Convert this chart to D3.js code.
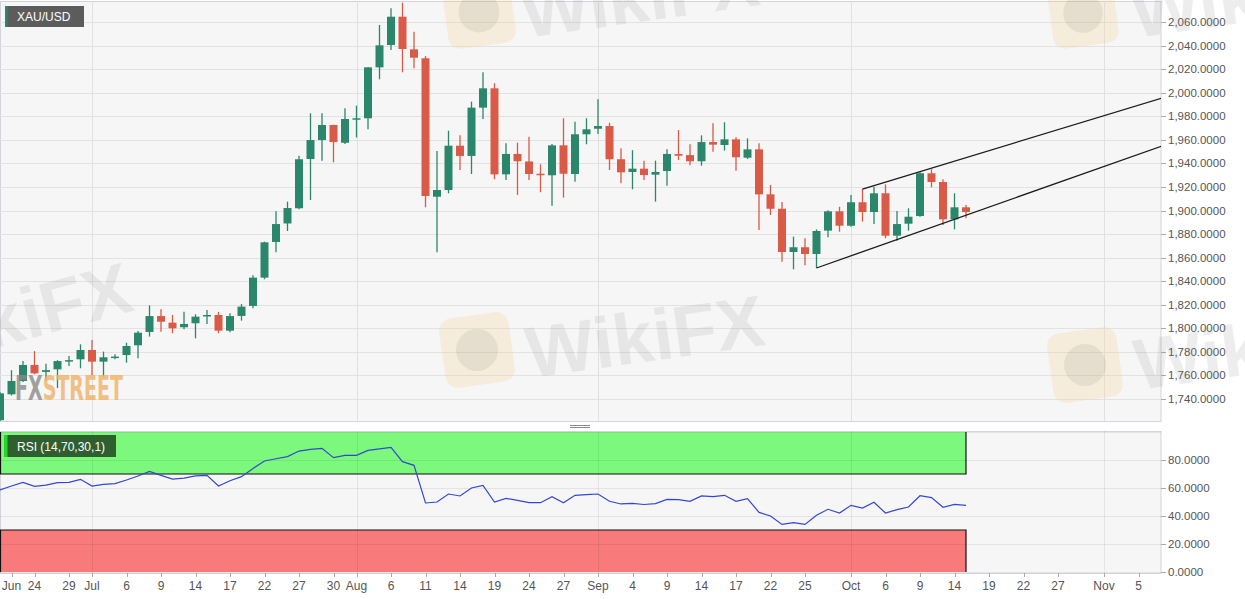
<!DOCTYPE html>
<html><head><meta charset="utf-8">
<script src="https://cdn.jsdelivr.net/npm/d3@7"></script>
<style>
body{margin:0;background:#fff;}
svg{display:block;font-family:"Liberation Sans",Arial,sans-serif;}
</style>
</head><body><svg id="c" width="1245" height="599"></svg>
<script>
// ---------- DATA ----------
const dates = ["2020-06-19","2020-06-22","2020-06-23","2020-06-24","2020-06-25","2020-06-26","2020-06-29","2020-06-30",
"2020-07-01","2020-07-02","2020-07-03","2020-07-06","2020-07-07","2020-07-08","2020-07-09","2020-07-10","2020-07-13","2020-07-14","2020-07-15","2020-07-16","2020-07-17","2020-07-20","2020-07-21","2020-07-22","2020-07-23","2020-07-24","2020-07-27","2020-07-28","2020-07-29","2020-07-30","2020-07-31",
"2020-08-03","2020-08-04","2020-08-05","2020-08-06","2020-08-07","2020-08-10","2020-08-11","2020-08-12","2020-08-13","2020-08-14","2020-08-17","2020-08-18","2020-08-19","2020-08-20","2020-08-21","2020-08-24","2020-08-25","2020-08-26","2020-08-27","2020-08-28","2020-08-31",
"2020-09-01","2020-09-02","2020-09-03","2020-09-04","2020-09-07","2020-09-08","2020-09-09","2020-09-10","2020-09-11","2020-09-14","2020-09-15","2020-09-16","2020-09-17","2020-09-18","2020-09-21","2020-09-22","2020-09-23","2020-09-24","2020-09-25","2020-09-28","2020-09-29","2020-09-30",
"2020-10-01","2020-10-02","2020-10-05","2020-10-06","2020-10-07","2020-10-08","2020-10-09","2020-10-12","2020-10-13","2020-10-14","2020-10-15"];

const opens = [1722,1744,1755.3,1768.9,1763,1765.2,1772.2,1773.7,
1781.6,1771.7,1775.4,1777.3,1785.6,1796.9,1810.4,1804.8,1800.9,1804.3,1810.5,1811.3,1798,1810.5,1819,1843,1873.3,1889,1901.9,1943.7,1959.8,1972.6,1957.5,
1977.5,1978.3,2021.5,2040.5,2064.5,2036.8,2029.2,1911.7,1917.4,1955,1946.3,1987.3,2003.7,1930.7,1948,1941.6,1931.2,1929.9,1955.3,1931,1964.7,
1969.4,1971.7,1943.5,1932.7,1935.5,1930.4,1933.5,1947.9,1947,1941.8,1958.1,1955.6,1960.4,1944.8,1951.9,1913.7,1901.5,1864.8,1868.8,1863.1,1882.9,1899.3,
1887.1,1907,1898.7,1914.6,1878.6,1888.8,1895.3,1931.6,1924.2,1892.5,1902.7];
const highs = [1746,1764.5,1772.2,1780.7,1770,1773,1776.5,1786.4,
1790,1780.2,1778,1787.8,1797.7,1819.5,1816.1,1811.3,1814.1,1811.9,1815.5,1814,1812.7,1820.6,1845,1873.5,1899.3,1907.5,1946.5,1982.5,1982.5,1972.8,1986.7,
1989,2021.8,2057.5,2071.6,2076.4,2051.8,2031.1,1950.5,1967.7,1963.8,1992.4,2017.3,2008,1957,1957.6,1962.6,1939.2,1956.5,1978.3,1975.4,1978.3,
1994.4,1974.5,1952.8,1951.2,1942.3,1942.3,1952,1968.3,1956.2,1963.8,1974,1974.9,1962.1,1961.2,1957,1921.6,1907.2,1877.8,1876.4,1884,1900.2,1903.2,
1913.2,1918.2,1920.2,1922.2,1899.6,1901.9,1932.4,1935,1926.5,1914.6,1904.7];
const lows = [1719,1743,1754.5,1761,1756,1749.3,1768,1766.1,
1760.4,1759,1773.8,1770.8,1774.5,1793,1797.1,1795.8,1799.2,1791.5,1803.6,1795.8,1796.6,1806.5,1817,1841.6,1864.5,1882.6,1901,1908.9,1942.3,1940.9,1956.4,
1962,1969,2011.4,2036.2,2017.3,2020.7,1902.7,1864.5,1914.6,1934.4,1931,1977.7,1926.5,1925.9,1913.2,1925.9,1915.5,1904.1,1910.9,1924.4,1956.2,
1964.9,1934.4,1923.1,1918,1925.9,1907.5,1921,1942.9,1938.4,1938,1949.9,1950.8,1933.8,1943.7,1883.4,1896.2,1856.6,1850.1,1853.5,1851.2,1877.3,1882,
1886.3,1890.5,1888.5,1876.4,1874.4,1882.9,1894.7,1919.7,1887.7,1884,1893.4];
const closes = [1744.8,1755.3,1768.9,1761.8,1764.5,1772.2,1773,1781.6,
1771.7,1775.4,1776,1785,1796.3,1810.4,1805.6,1800,1803.7,1809.9,1811.3,1798,1810.4,1818.4,1843,1873,1888.5,1902.1,1943.5,1959.8,1972.6,1958.1,1977.7,
1978.3,2021.5,2040.2,2064.5,2037.1,2029.7,1912.3,1917.4,1955,1946.3,1987.3,2003.7,1930.7,1948,1941.8,1931,1930.5,1955.3,1931.2,1964.7,1968.9,
1971.7,1943.5,1932.4,1935.5,1930.1,1932.7,1948,1946.5,1941.8,1958.1,1955.9,1960.4,1945.2,1951.9,1913.7,1901.5,1864.8,1868.8,1863.1,1882.6,1899.3,1887.1,
1907,1898.7,1914.6,1878.6,1888.5,1894.7,1931.6,1924.2,1892.5,1902.7,1898.7];
const rsiValues = [58.6,61.4,64.0,61.2,62.1,63.8,64.0,66.2,
61.4,62.6,63.1,65.7,68.6,71.9,69.0,66.4,67.1,68.6,69.0,61.4,65.2,68.1,74.0,79.3,80.9,82.4,86.4,87.6,88.3,81.7,83.3,
83.3,86.9,87.9,89.0,78.8,76.2,49.3,50.0,55.7,54.3,60.0,61.9,50.0,52.6,51.2,49.5,49.5,53.8,49.5,54.8,55.2,
55.7,50.5,48.6,49.0,48.2,48.8,51.9,51.7,50.5,54.3,53.8,54.8,50.5,52.4,42.6,40.0,34.0,35.2,34.0,40.5,44.8,42.1,
47.6,45.7,49.8,42.1,44.5,46.4,54.5,53.1,46.2,48.3,47.6];

const priceTicks = [1740,1760,1780,1800,1820,1840,1860,1880,1900,1920,1940,1960,1980,2000,2020,2040,2060];
const rsiTicks = [0,20,40,60,80];
const rsiUpper = 70, rsiLower = 30;
const xTickDates = ["2020-06-22","2020-06-24","2020-06-29","2020-07-01","2020-07-06","2020-07-09","2020-07-14","2020-07-17","2020-07-22","2020-07-27","2020-07-30",
"2020-08-03","2020-08-06","2020-08-11","2020-08-14","2020-08-19","2020-08-24","2020-08-27","2020-09-01","2020-09-04","2020-09-09","2020-09-14","2020-09-17","2020-09-22","2020-09-25",
"2020-10-01","2020-10-06","2020-10-09","2020-10-14","2020-10-19","2020-10-22","2020-10-27","2020-11-02","2020-11-05"];
const xTickLabels = ["Jun","24","29","Jul","6","9","14","17","22","27","30","Aug","6","11","14","19","24","27","Sep","4","9","14","17","22","25","Oct","6","9","14","19","22","27","Nov","5"];
const monthDates = ["2020-07-01","2020-08-03","2020-09-01","2020-10-01","2020-11-02"];
const upperTrend = [["2020-10-02",1918.2],["2020-11-09",1995.3]];
const lowerTrend = [["2020-09-28",1851.2],["2020-11-09",1954.6]];
const symbolLabel = "XAU/USD";
const rsiLabel = "RSI (14,70,30,1)";

// ---------- LAYOUT ----------
const W = 1245, H = 599;
const plotR = 1161;
const pTop = 1, pBot = 421;
const rTop = 431, rBot = 573;
const GREEN = "#2b876b", RED = "#d85a47";

const parse = d3.utcParse("%Y-%m-%d");
const cal = d3.utcDay.range(parse("2020-06-19"), parse("2020-11-10")).filter(d => d.getUTCDay() !== 0 && d.getUTCDay() !== 6);
const fmt = d3.utcFormat("%Y-%m-%d");
const idx = new Map(cal.map((d, i) => [fmt(d), i]));

const x = d3.scaleLinear().domain([0, 101]).range([0, 1161.5]);
const xd = s => x(idx.get(s));
const y = d3.scaleLinear().domain([1740, 2060]).range([399, 22]);
const yr = d3.scaleLinear().domain([0, 100]).range([572, 432]);

const svg = d3.select("#c");
svg.append("rect").attr("width", W).attr("height", H).attr("fill", "#fff");

const defs = svg.append("defs");
defs.append("clipPath").attr("id", "cp").append("rect").attr("x", 0).attr("y", pTop).attr("width", plotR).attr("height", pBot - pTop);
defs.append("clipPath").attr("id", "cr").append("rect").attr("x", 0).attr("y", rTop).attr("width", plotR).attr("height", rBot - rTop);

svg.append("rect").attr("x", 0.5).attr("y", pTop + 0.5).attr("width", plotR - 0.5).attr("height", pBot - pTop).attr("fill", "#f6f6f6").attr("stroke", "#d3d3dc");
svg.append("rect").attr("x", 0.5).attr("y", rTop + 0.5).attr("width", plotR - 0.5).attr("height", rBot - rTop).attr("fill", "#f6f6f6").attr("stroke", "#d3d3dc");

// ---------- PRICE PANEL ----------
const gp = svg.append("g").attr("clip-path", "url(#cp)");
gp.selectAll("line.hg").data(priceTicks).join("line")
  .attr("x1", 0).attr("x2", plotR).attr("y1", d => Math.round(y(d)) + 0.5).attr("y2", d => Math.round(y(d)) + 0.5)
  .attr("stroke", "#e2e2e2");
gp.selectAll("line.vg").data(monthDates).join("line")
  .attr("x1", d => Math.round(xd(d)) + 0.5).attr("x2", d => Math.round(xd(d)) + 0.5).attr("y1", pTop).attr("y2", pBot)
  .attr("stroke", "#e0e0e0");

const bw = 8;
const candles = dates.map((d, i) => ({d, o: opens[i], h: highs[i], l: lows[i], c: closes[i]}));
const cg = gp.selectAll("g.cdl").data(candles).join("g");
cg.append("line")
  .attr("x1", d => xd(d.d)).attr("x2", d => xd(d.d))
  .attr("y1", d => y(d.h)).attr("y2", d => y(d.l))
  .attr("stroke", d => d.c >= d.o ? GREEN : RED).attr("stroke-width", 1.3);
cg.append("rect")
  .attr("x", d => xd(d.d) - bw / 2).attr("width", bw)
  .attr("y", d => y(Math.max(d.o, d.c)))
  .attr("height", d => Math.max(1.5, Math.abs(y(d.o) - y(d.c))))
  .attr("fill", d => d.c >= d.o ? GREEN : RED);

[upperTrend, lowerTrend].forEach(t => {
  gp.append("line")
    .attr("x1", xd(t[0][0])).attr("y1", y(t[0][1]))
    .attr("x2", xd(t[1][0])).attr("y2", y(t[1][1]))
    .attr("stroke", "#1a1a1a").attr("stroke-width", 1.3);
});

const ya = svg.append("g");
ya.selectAll("line").data(priceTicks).join("line")
  .attr("x1", plotR).attr("x2", plotR + 5).attr("y1", d => Math.round(y(d)) + 0.5).attr("y2", d => Math.round(y(d)) + 0.5)
  .attr("stroke", "#aaa");
ya.selectAll("text").data(priceTicks).join("text")
  .attr("x", plotR + 7).attr("y", d => y(d)).attr("dy", "0.35em")
  .attr("font-size", 11.5).attr("fill", "#555")
  .text(d => d3.format(",.4f")(d));

svg.append("rect").attr("x", 5).attr("y", 6).attr("width", 79).attr("height", 21).attr("fill", "#5c5c5c");
svg.append("rect").attr("x", 5).attr("y", 6).attr("width", 2.5).attr("height", 21).attr("fill", "#2b876b");
svg.append("text").attr("x", 17).attr("y", 20.5).attr("font-size", 12).attr("fill", "#fff").text(symbolLabel);

// ---------- RSI PANEL ----------
const gr = svg.append("g").attr("clip-path", "url(#cr)");
const xEnd = xd(dates[dates.length - 1]);
gr.append("rect").attr("x", 0).attr("y", yr(100)).attr("width", xEnd).attr("height", yr(rsiUpper) - yr(100)).attr("fill", "#7cf97c");
gr.append("rect").attr("x", 0).attr("y", yr(rsiLower)).attr("width", xEnd).attr("height", yr(0) - yr(rsiLower)).attr("fill", "#f87a7a");
gr.selectAll("line.hg").data(rsiTicks.concat([100])).join("line")
  .attr("x1", 0).attr("x2", plotR).attr("y1", d => Math.round(yr(d)) + 0.5).attr("y2", d => Math.round(yr(d)) + 0.5)
  .attr("stroke", "rgba(0,0,0,0.07)");
gr.selectAll("line.vg").data(monthDates).join("line")
  .attr("x1", d => Math.round(xd(d)) + 0.5).attr("x2", d => Math.round(xd(d)) + 0.5).attr("y1", rTop).attr("y2", rBot)
  .attr("stroke", "rgba(0,0,0,0.07)");
gr.append("path").attr("d", `M0.5,${yr(100)}V${yr(rsiUpper)}H${xEnd}V${yr(100)}`).attr("fill", "none").attr("stroke", "#111").attr("stroke-width", 1.2);
gr.append("path").attr("d", `M0.5,${yr(0)}V${yr(rsiLower)}H${xEnd}V${yr(0)}`).attr("fill", "none").attr("stroke", "#111").attr("stroke-width", 1.2);

gr.append("path").datum(rsiValues)
  .attr("d", d3.line().x((v, i) => xd(dates[i])).y(v => yr(v)))
  .attr("fill", "none").attr("stroke", "#3347d4").attr("stroke-width", 1.2);

svg.append("rect").attr("x", 4.5).attr("y", 435).attr("width", 111.5).attr("height", 22).attr("fill", "#2f5f2f");
svg.append("rect").attr("x", 4.5).attr("y", 435).attr("width", 3).attr("height", 22).attr("fill", "#19e019");
svg.append("text").attr("x", 17).attr("y", 450.5).attr("font-size", 12).attr("fill", "#fff").text(rsiLabel);

const ra = svg.append("g");
ra.selectAll("line").data(rsiTicks).join("line")
  .attr("x1", plotR).attr("x2", plotR + 5).attr("y1", d => Math.round(yr(d)) + 0.5).attr("y2", d => Math.round(yr(d)) + 0.5)
  .attr("stroke", "#aaa");
ra.selectAll("text").data(rsiTicks).join("text")
  .attr("x", plotR + 7).attr("y", d => yr(d)).attr("dy", "0.35em")
  .attr("font-size", 11.5).attr("fill", "#555")
  .text(d => d3.format(".4f")(d));

const xa = svg.append("g");
xa.selectAll("line").data(xTickDates).join("line")
  .attr("x1", d => Math.round(xd(d)) + 0.5).attr("x2", d => Math.round(xd(d)) + 0.5).attr("y1", rBot).attr("y2", rBot + 4)
  .attr("stroke", "#aaa");
xa.selectAll("text").data(xTickDates).join("text")
  .attr("x", d => xd(d)).attr("y", 590).attr("text-anchor", "middle")
  .attr("font-size", 12).attr("fill", "#555")
  .text((d, i) => xTickLabels[i])
  .each(function () {
    const b = this.getBBox();
    if (b.x < 0) d3.select(this).attr("x", +d3.select(this).attr("x") - b.x);
  });

svg.append("line").attr("x1", 570).attr("x2", 590).attr("y1", 425.5).attr("y2", 425.5).attr("stroke", "#888");
svg.append("line").attr("x1", 570).attr("x2", 590).attr("y1", 427.5).attr("y2", 427.5).attr("stroke", "#888");

// ---------- LOGOS / WATERMARKS ----------
const wm = svg.append("g").attr("pointer-events", "none");
function logo(x0, y0, s) {
  wm.append("rect").attr("x", x0).attr("y", y0).attr("width", s).attr("height", s).attr("rx", s * 0.18)
    .attr("fill", "#f3cf8f").attr("opacity", 0.26).attr("transform", `rotate(-8,${x0 + s / 2},${y0 + s / 2})`);
  wm.append("circle").attr("cx", x0 + s / 2).attr("cy", y0 + s / 2).attr("r", s * 0.3)
    .attr("fill", "#777").attr("opacity", 0.12);
}
function wtext(x0, y0, rot) {
  wm.append("text").attr("x", x0).attr("y", y0).attr("font-size", 72).attr("font-weight", "bold")
    .attr("fill", "#888").attr("opacity", 0.14).attr("transform", `rotate(${rot},${x0},${y0})`).text("WikiFX");
}
logo(445, -22, 68); wtext(525, 38, -8);
logo(1050, -20, 66); wtext(1135, 38, -8);
logo(442, 315, 70); wtext(530, 378, -8);
logo(1050, 330, 70); wtext(1138, 390, -8);
wtext(-95, 372, -15);

const fxt = svg.append("text").attr("x", 15).attr("y", 400).attr("font-size", 33).attr("font-weight", "bold")
  .attr("font-family", "'DejaVu Sans Condensed','Liberation Sans Narrow',sans-serif")
  .attr("textLength", 108).attr("lengthAdjust", "spacingAndGlyphs").attr("opacity", 0.8);
fxt.append("tspan").attr("fill", "#8a8a8a").text("FX");
fxt.append("tspan").attr("fill", "#f0b266").text("STREET");
</script>
</body></html>
